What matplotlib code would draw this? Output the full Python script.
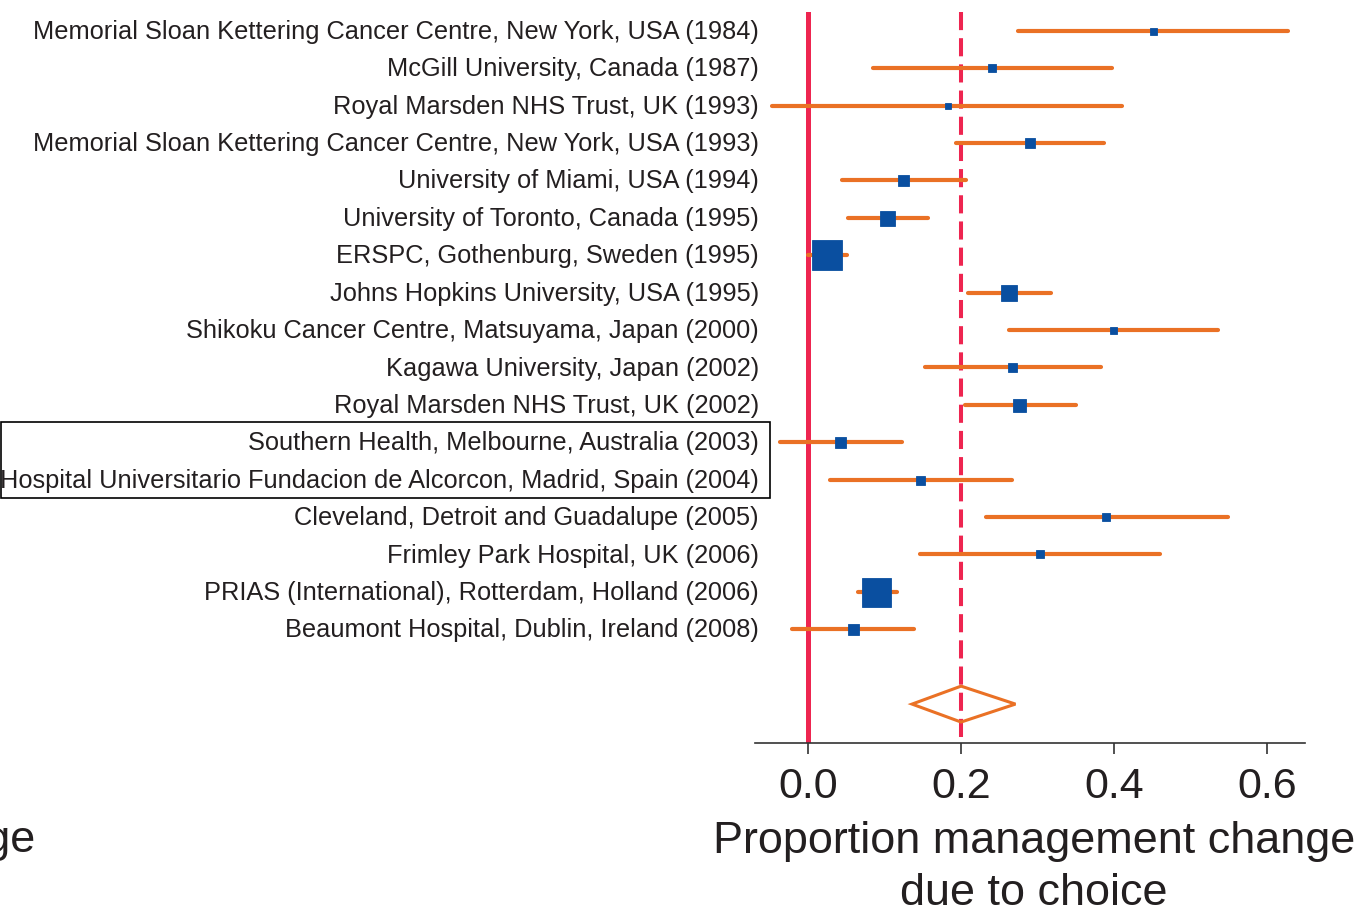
import matplotlib as mpl
import matplotlib.pyplot as plt
import matplotlib.transforms as mtransforms
from matplotlib.patches import Rectangle, Polygon

mpl.rcParams['font.family'] = ['Liberation Sans', 'DejaVu Sans']

# study estimates (proportion with 95% CI) and relative weights
studies = [
    "Memorial Sloan Kettering Cancer Centre, New York, USA (1984)",
    "McGill University, Canada (1987)",
    "Royal Marsden NHS Trust, UK (1993)",
    "Memorial Sloan Kettering Cancer Centre, New York, USA (1993)",
    "University of Miami, USA (1994)",
    "University of Toronto, Canada (1995)",
    "ERSPC, Gothenburg, Sweden (1995)",
    "Johns Hopkins University, USA (1995)",
    "Shikoku Cancer Centre, Matsuyama, Japan (2000)",
    "Kagawa University, Japan (2002)",
    "Royal Marsden NHS Trust, UK (2002)",
    "Southern Health, Melbourne, Australia (2003)",
    "Hospital Universitario Fundacion de Alcorcon, Madrid, Spain (2004)",
    "Cleveland, Detroit and Guadalupe (2005)",
    "Frimley Park Hospital, UK (2006)",
    "PRIAS (International), Rotterdam, Holland (2006)",
    "Beaumont Hospital, Dublin, Ireland (2008)",
]
estimate = [0.450, 0.241, 0.183, 0.290, 0.124, 0.103, 0.025, 0.262, 0.399,
            0.267, 0.275, 0.042, 0.147, 0.389, 0.303, 0.089, 0.059]
ci_low = [0.274, 0.085, -0.047, 0.194, 0.044, 0.053, 0.000, 0.209, 0.263,
          0.153, 0.205, -0.037, 0.029, 0.232, 0.147, 0.065, -0.021]
ci_high = [0.627, 0.397, 0.410, 0.386, 0.206, 0.157, 0.051, 0.317, 0.536,
           0.383, 0.350, 0.123, 0.267, 0.549, 0.460, 0.117, 0.138]
weight = [7, 8, 6, 10, 11, 15, 30, 16, 7, 9, 13, 11, 9, 8, 8, 29, 11]

pooled = 0.200
pooled_low = 0.136
pooled_high = 0.271

orange = '#EA7125'
blue = '#0A4FA0'
red = '#EE2550'
txt = '#231F20'

fig = plt.figure(figsize=(13.67, 9.21), dpi=100)
ax = fig.add_axes([755 / 1367, 1 - 743 / 921, 550 / 1367, 731 / 921])

ypos = list(range(len(studies)))
diamond_y = len(studies) + 1
ytop, ybottom = -0.5, 19.04

ax.axvline(0.0, color=red, linewidth=3.6, zorder=1)
ax.plot([pooled, pooled], [ytop, ybottom], color=red, linewidth=2.9,
        linestyle=(0, (4.5, 2.0)), zorder=1)

for y, est, lo, hi, w in zip(ypos, estimate, ci_low, ci_high, weight):
    ax.plot([lo, hi], [y, y], color=orange, linewidth=3, solid_capstyle='round', zorder=2)
    ax.plot(est, y, marker='s', color=blue, markersize=w * 0.72,
            markeredgewidth=0.6, markeredgecolor=blue, zorder=3)

half = 0.48
ax.add_patch(Polygon([[pooled_low, diamond_y], [pooled, diamond_y - half],
                      [pooled_high, diamond_y], [pooled, diamond_y + half]],
                     closed=True, fill=False, edgecolor=orange, linewidth=2.2, zorder=3))

ax.set_xlim(-0.069, 0.649)
ax.set_ylim(ybottom, ytop)

label_tf = mtransforms.blended_transform_factory(ax.transAxes, ax.transData)
for y, name in zip(ypos, studies):
    ax.text(0.007, y + 0.03, name, transform=label_tf, ha='right', va='center',
            fontsize=18.3, color=txt, clip_on=False)

# box around the two highlighted studies
box_tf = mtransforms.blended_transform_factory(fig.transFigure, ax.transData)
ax.add_patch(Rectangle((0.0005, 10.47), 770 / 1367 - 0.0005, 2.03, transform=box_tf,
                       fill=False, edgecolor='black', linewidth=1.2, clip_on=False))

for side in ['top', 'right', 'left']:
    ax.spines[side].set_visible(False)
ax.spines['bottom'].set_linewidth(1.2)
ax.spines['bottom'].set_color('#333333')
ax.set_yticks([])
ax.set_xticks([0.0, 0.2, 0.4, 0.6])
ax.set_xticklabels(['0.0', '0.2', '0.4', '0.6'])
ax.tick_params(axis='x', length=8, width=1.2, color='#333333', pad=9,
               labelsize=31, labelcolor=txt)
ax.set_xlabel("Proportion management change\ndue to choice", fontsize=32.4,
              color=txt, labelpad=10, linespacing=1.36)
ax.xaxis.label.set_x(0.507)

# tail of the neighbouring panel's axis label
fig.text(35 / 1367, 1 - 840 / 921, "Proportion management change", fontsize=32.4,
         color=txt, ha='right', va='center')

fig.savefig('out.png', dpi=100)
